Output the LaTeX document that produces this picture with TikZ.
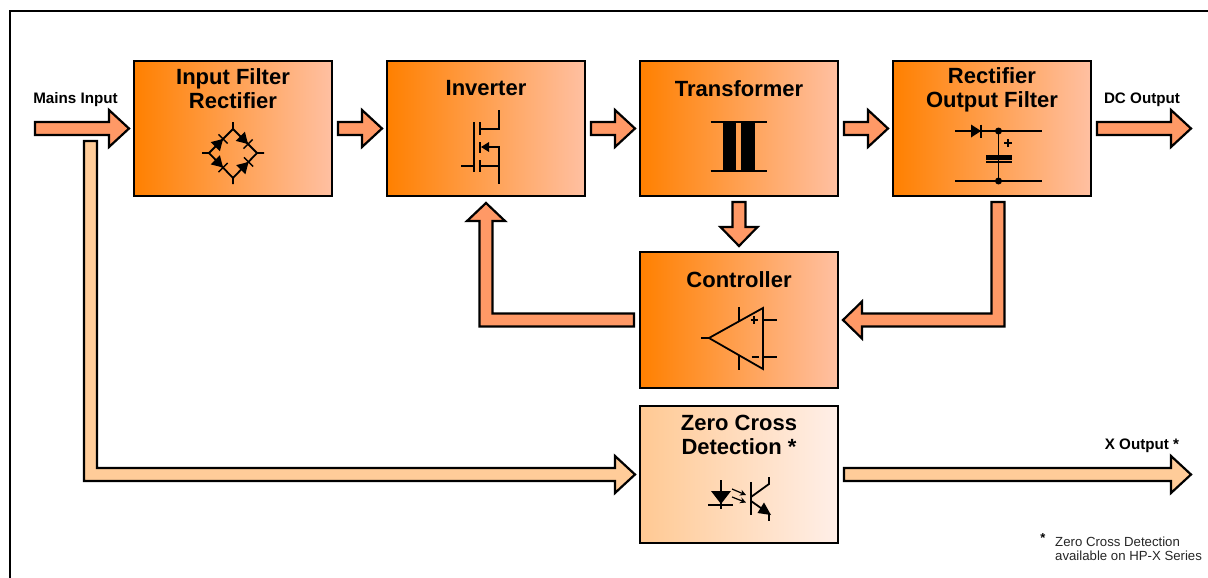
\documentclass[tikz,border=0pt]{standalone}
\usepackage{fontspec}
\setmainfont{Liberation Sans}
\usetikzlibrary{calc,arrows.meta}
\definecolor{boxL}{HTML}{FF8000}
\definecolor{boxR}{HTML}{FFC0A2}
\definecolor{zeroL}{HTML}{FFC993}
\definecolor{zeroR}{HTML}{FFEFE8}
\definecolor{arrowA}{HTML}{FF9966}
\definecolor{arrowB}{HTML}{FFCC99}
\tikzset{
  stagebox/.style={draw=black,line width=1.8pt,minimum width=198pt,minimum height=135pt,inner sep=0pt,outer sep=0pt,left color=boxL,right color=boxR},
  zerobox/.style={stagebox,left color=zeroL,right color=zeroR},
  title/.style={font=\bfseries\fontsize{22}{24}\selectfont,align=center,inner sep=0pt},
  tag/.style={font=\bfseries\fontsize{15.2}{17}\selectfont,inner sep=0pt},
  note/.style={font=\fontsize{13.2}{14.2}\selectfont,align=left,inner sep=0pt,text=black!85},
  blockarrow/.style={draw=black,line width=2.2pt,line join=miter,miter limit=6},
  sym/.style={draw=black,line width=1.8pt,line cap=butt},
  pics/bridgediode/.style={code={
    \fill[black] (-6,-6.5) -- (5,0) -- (-6,6.5) -- cycle;
    \draw[line width=1.5pt] (5,-6.5) -- (5,6.5);
  }}
}
\newcommand{\hblock}[3]{\draw[blockarrow,fill=#1] let \p1=(#2),\p2=(#3) in
  (\x1,{\y1+6.5pt}) -- ({\x2-20pt},{\y1+6.5pt}) -- ({\x2-20pt},{\y1+18.5pt}) -- (\x2,\y1)
  -- ({\x2-20pt},{\y1-18.5pt}) -- ({\x2-20pt},{\y1-6.5pt}) -- (\x1,{\y1-6.5pt}) -- cycle;}
\begin{document}
\begin{tikzpicture}[x=1pt,y=-1pt]
\useasboundingbox (0,0) rectangle (1208,578);
\fill[white] (0,0) rectangle (1208,578);
% frame
\draw[black,line width=2pt] (10,578) -- (10,11) -- (1208,11);

% boxes
\node[stagebox] (box1) at (233,128.5) {};
\node[stagebox] (box2) at (486,128.5) {};
\node[stagebox] (box3) at (739,128.5) {};
\node[stagebox] (box4) at (992,128.5) {};
\node[stagebox,minimum height=136pt] (ctrl) at (739,320) {};
\node[zerobox,minimum height=137pt] (zero) at (739,474.5) {};

% titles
\node[title] (t1) at (233,89) {Input Filter\\Rectifier};
\node[title] (t2) at (486,88.5) {Inverter};
\node[title] (t3) at (739,88.5) {Transformer};
\node[title] (t4) at (992,90) {Rectifier\\Output Filter};
\node[title] (t5) at (739,280) {Controller};
\node[title] (t6) at (739,435) {Zero Cross\\Detection *};

% free labels
\node[tag] (lmains) at (75.5,100) {Mains Input};
\node[tag] (ldc) at (1142,100) {DC Output};
\node[tag] (lx) at (1142,445.5) {X Output *};
\node[font=\bfseries\fontsize{13}{14}\selectfont,inner sep=0pt] (nstar) at (1043,538) {*};
\node[note,anchor=north west] (ntext) at (1055,536.5) {Zero Cross Detection\\available on HP-X Series};

% free ends
\coordinate (mainsin) at (35,128.5);
\coordinate (dcout) at (1191,128.5);
\coordinate (xout) at (1191,474.5);
\coordinate (tap) at (90.5,141);

% straight block arrows
\hblock{arrowA}{mainsin}{$(box1.west)+(-5,0)$}
\hblock{arrowA}{$(box1.east)+(6,0)$}{$(box2.west)+(-5,0)$}
\hblock{arrowA}{$(box2.east)+(6,0)$}{$(box3.west)+(-5,0)$}
\hblock{arrowA}{$(box3.east)+(6,0)$}{$(box4.west)+(-5,0)$}
\hblock{arrowA}{$(box4.east)+(6,0)$}{dcout}
\hblock{arrowB}{$(zero.east)+(6,0)$}{xout}

% transformer -> controller
\draw[blockarrow,fill=arrowA] let \p1=($(box3.south)+(0,6)$),\p2=($(ctrl.north)+(0,-6)$) in
  ({\x1-6.5pt},\y1) -- ({\x1+6.5pt},\y1) -- ({\x1+6.5pt},{\y2+19pt}) -- ({\x1+18.5pt},{\y2+19pt})
  -- (\x1,\y2) -- ({\x1-18.5pt},{\y2+19pt}) -- ({\x1-6.5pt},{\y2+19pt}) -- cycle;

% controller -> inverter
\draw[blockarrow,fill=arrowA] let \p1=($(ctrl.west)+(-6,0)$),\p2=($(box2.south)+(0,7)$) in
  (\x1,{\y1+6.5pt}) -- ({\x2+6.5pt},{\y1+6.5pt}) -- ({\x2+6.5pt},{\y2-18pt}) -- ({\x2+19pt},{\y2-18pt})
  -- (\x2,\y2) -- ({\x2-19pt},{\y2-18pt}) -- ({\x2-6.5pt},{\y2-18pt}) -- ({\x2-6.5pt},{\y1-6.5pt})
  -- (\x1,{\y1-6.5pt}) -- cycle;

% rectifier -> controller
\draw[blockarrow,fill=arrowA] let \p1=($(box4.south)+(6,6)$),\p2=($(ctrl.east)+(5,0)$) in
  ({\x1+6.5pt},\y1) -- ({\x1+6.5pt},{\y2-6.5pt}) -- ({\x2+19pt},{\y2-6.5pt}) -- ({\x2+19pt},{\y2-18.5pt})
  -- (\x2,\y2) -- ({\x2+19pt},{\y2+18.5pt}) -- ({\x2+19pt},{\y2+6.5pt}) -- ({\x1-6.5pt},{\y2+6.5pt})
  -- ({\x1-6.5pt},\y1) -- cycle;

% mains -> zero cross
\draw[blockarrow,fill=arrowB] let \p1=(tap),\p2=($(zero.west)+(-5,0)$) in
  ({\x1-6.5pt},\y1) -- ({\x1+6.5pt},\y1) -- ({\x1+6.5pt},{\y2+6.5pt}) -- ({\x2-20pt},{\y2+6.5pt})
  -- ({\x2-20pt},{\y2+18.5pt}) -- (\x2,\y2) -- ({\x2-20pt},{\y2-18.5pt}) -- ({\x2-20pt},{\y2-6.5pt})
  -- ({\x1-6.5pt},{\y2-6.5pt}) -- cycle;

% bridge rectifier
\draw[sym] (233,122) -- (233,129) -- (257,153) -- (264,153);
\draw[sym] (202,153) -- (209,153) -- (233,129);
\draw[sym] (209,153) -- (233,178) -- (233,184);
\draw[sym] (233,178) -- (257,153);
\pic[rotate=45] at (219.5,142.5) {bridgediode};
\pic[rotate=-45] at (244.5,140.5) {bridgediode};
\pic[rotate=-45] at (219.5,164) {bridgediode};
\pic[rotate=45] at (245,165.5) {bridgediode};

% MOSFET
\draw[sym] (461,166) -- (473.7,166);
\draw[sym] (473.7,122) -- (473.7,172);
\draw[sym] (480,122) -- (480,135);
\draw[sym] (480,142) -- (480,153);
\draw[sym] (480,160) -- (480,172);
\draw[sym] (480,129) -- (499,129) -- (499,110);
\draw[sym] (488,147) -- (499,147) -- (499,184);
\draw[sym] (480,166) -- (499,166);
\fill[black] (481,147) -- (489,142) -- (489,152) -- cycle;

% transformer
\fill[black] (723,121) rectangle (736,172);
\fill[black] (741,121) rectangle (755,172);
\draw[sym] (710.5,122) -- (767,122);
\draw[sym] (710.5,171) -- (767,171);

% rectifier / output filter
\draw[sym] (955,131) -- (1042,131);
\draw[sym] (955,181) -- (1042,181);
\draw[sym] (998.5,131) -- (998.5,181);
\fill[black] (971,124.5) -- (981,131) -- (971,137.5) -- cycle;
\draw[sym] (981,124.5) -- (981,137.5);
\fill[black] (998.5,131) circle (3.5);
\fill[black] (998.5,181) circle (3.5);
\fill[black] (986,155) rectangle (1012,160);
\draw[sym] (986,162) -- (1012,162);
\draw[sym] (1004,143) -- (1012,143);
\draw[sym] (1008,139) -- (1008,147);

% op-amp
\draw[sym,line join=miter] (709,338) -- (763,308) -- (763,369) -- cycle;
\draw[sym] (701,338) -- (709,338);
\draw[sym] (763,320) -- (777,320);
\draw[sym] (763,357) -- (777,357);
\draw[sym] (739,307) -- (739,322);
\draw[sym] (739,355) -- (739,370);
\draw[sym,line width=1.9pt] (750.5,320) -- (757.5,320);
\draw[sym,line width=1.9pt] (754,316) -- (754,324);
\draw[sym,line width=1.9pt] (751.5,357) -- (758.5,357);

% opto-coupler
\draw[sym] (721,480) -- (721,509);
\fill[black] (711,491) -- (731,491) -- (721,504) -- cycle;
\draw[sym] (708,505) -- (733,505);
\draw[line width=1.2pt,-{Stealth[length=6pt,width=6pt]}] (732,489) -- (746,495);
\draw[line width=1.2pt,-{Stealth[length=6pt,width=6pt]}] (732,497) -- (746,502.5);
\draw[line width=2.2pt] (751,482) -- (751,515);
\draw[sym] (751,497) -- (769,484) -- (769,477);
\draw[sym] (751,501) -- (763,509.5);
\draw[sym] (769,513) -- (769,521);
\fill[black] (771,515) -- (757.5,513) -- (764,502.5) -- cycle;
\end{tikzpicture}
\end{document}
